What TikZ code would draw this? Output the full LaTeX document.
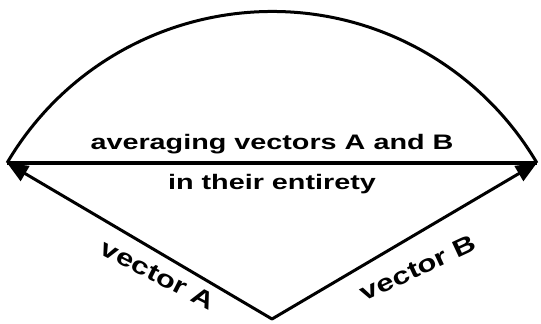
\documentclass[tikz,border=0pt]{standalone}
\usepackage{fontspec}
\setmainfont{Liberation Sans}
\usetikzlibrary{arrows.meta}

\begin{document}
\begin{tikzpicture}[x=1pt,y=1pt,
  vec/.style={line width=3pt,line cap=round,-{Triangle[length=21pt,width=17pt]}},
  lbl/.style={font=\bfseries\fontsize{21}{25}\selectfont,inner sep=0pt,xscale=1.37},
  vlbl/.style={font=\bfseries\fontsize{24}{28}\selectfont,inner sep=0pt,xscale=1.3}]
\useasboundingbox (0,0) rectangle (541,324);
\coordinate (o) at (272,5);
\path (o) ++(149.5:307.5) coordinate (a);
\path (o) ++(30.5:307.5) coordinate (b);
\draw[line width=3pt] (a) arc[start angle=149.5,end angle=30.5,radius=307.5];
\draw[line width=3.5pt] (a)--(b);
\draw[vec] (o)--(a);
\draw[vec] (o)--(b);
\node[lbl,anchor=base] (avg) at (272,174) {averaging vectors A and B};
\node[lbl,anchor=base] (ent) at (272,134) {in their entirety};
\node[rotate=-27,vlbl] (labA) at (158,49) {vector A};
\node[rotate=25,vlbl] (labB) at (418,56) {vector B};
\end{tikzpicture}
\end{document}
